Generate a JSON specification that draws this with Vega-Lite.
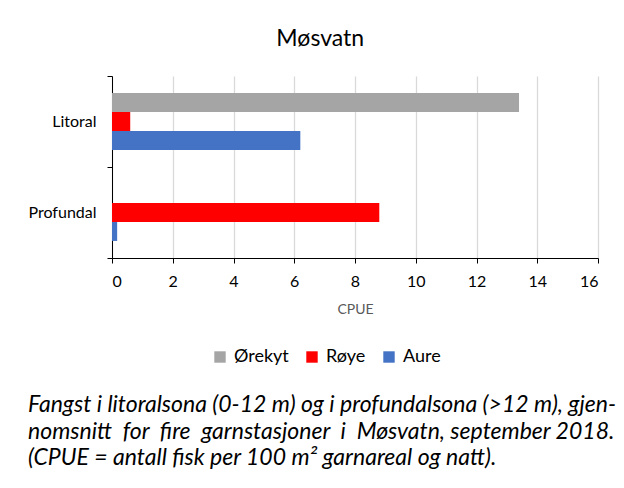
{
  "$schema": "https://vega.github.io/schema/vega-lite/v6.json",
  "background": "white",
  "padding": {"left": 28, "top": 28, "right": 5, "bottom": 5},
  "title": {
    "text": ["Fangst i litoralsona (0-12 m) og i profundalsona (>12 m), gjen-", "nomsnitt\u00a0 for\u00a0 fire\u00a0 garnstasjoner\u00a0 i\u00a0 Møsvatn, september 2018.", "(CPUE = antall fisk per 100 m² garnareal og natt)."],
    "orient": "bottom", "anchor": "start", "font": "Lato", "fontStyle": "italic", "fontWeight": "normal",
    "fontSize": 23, "lineHeight": 26.5, "color": "black", "offset": 28, "dx": 0
  },
  "vconcat": [
    {
      "width": 486,
      "height": 182,
      "title": {"text": "Møsvatn", "font": "Lato", "fontSize": 23, "fontWeight": "normal", "color": "black", "anchor": "middle", "frame": "bounds", "offset": 17, "dx": 7},
      "data": {"values": [
        {"Sone": "Litoral", "Art": "Ørekyt", "CPUE": 13.4},
        {"Sone": "Litoral", "Art": "Røye", "CPUE": 0.6},
        {"Sone": "Litoral", "Art": "Aure", "CPUE": 6.2},
        {"Sone": "Profundal", "Art": "Ørekyt", "CPUE": 0},
        {"Sone": "Profundal", "Art": "Røye", "CPUE": 8.8},
        {"Sone": "Profundal", "Art": "Aure", "CPUE": 0.17}
      ]},
      "mark": {"type": "bar"},
      "encoding": {
        "y": {"field": "Sone", "type": "nominal", "sort": ["Litoral", "Profundal"],
          "scale": {"paddingInner": 0, "paddingOuter": 0},
          "axis": {"title": null, "tickBand": "extent", "grid": false, "domainColor": "black", "tickColor": "black", "tickSize": 5, "labelPadding": 11, "labelFontSize": 16, "labelColor": "black", "labelFont": "Lato"}},
        "yOffset": {"field": "Art", "type": "nominal", "sort": ["Ørekyt", "Røye", "Aure"], "scale": {"paddingInner": 0, "paddingOuter": 0.9}},
        "x": {"field": "CPUE", "type": "quantitative", "scale": {"domain": [0, 16], "nice": false},
          "axis": {"values": [0, 2, 4, 6, 8, 10, 12, 14, 16], "title": "CPUE", "titleFont": "Lato", "titleFontSize": 14, "titleFontWeight": "normal", "titleColor": "#595959", "titlePadding": 13,
            "grid": true, "gridColor": "#D9D9D9", "gridWidth": 1.3, "domainColor": "black", "tickColor": "black", "tickSize": 5, "labelPadding": 10, "labelFontSize": 16, "labelColor": "black", "labelFont": "Lato"}},
        "color": {"field": "Art", "type": "nominal", "sort": ["Ørekyt", "Røye", "Aure"],
          "scale": {"domain": ["Ørekyt", "Røye", "Aure"], "range": ["#A5A5A5", "#FF0000", "#4472C4"]},
          "legend": {"title": null, "orient": "none", "legendX": 99, "legendY": 272, "direction": "horizontal", "symbolType": "square", "symbolSize": 130, "symbolStrokeWidth": 0, "labelFontSize": 18, "labelFont": "Lato", "labelColor": "black", "labelOffset": 5, "columnPadding": 14}}
      }
    }
  ],
  "config": {"view": {"stroke": null}, "font": "Lato"}
}
